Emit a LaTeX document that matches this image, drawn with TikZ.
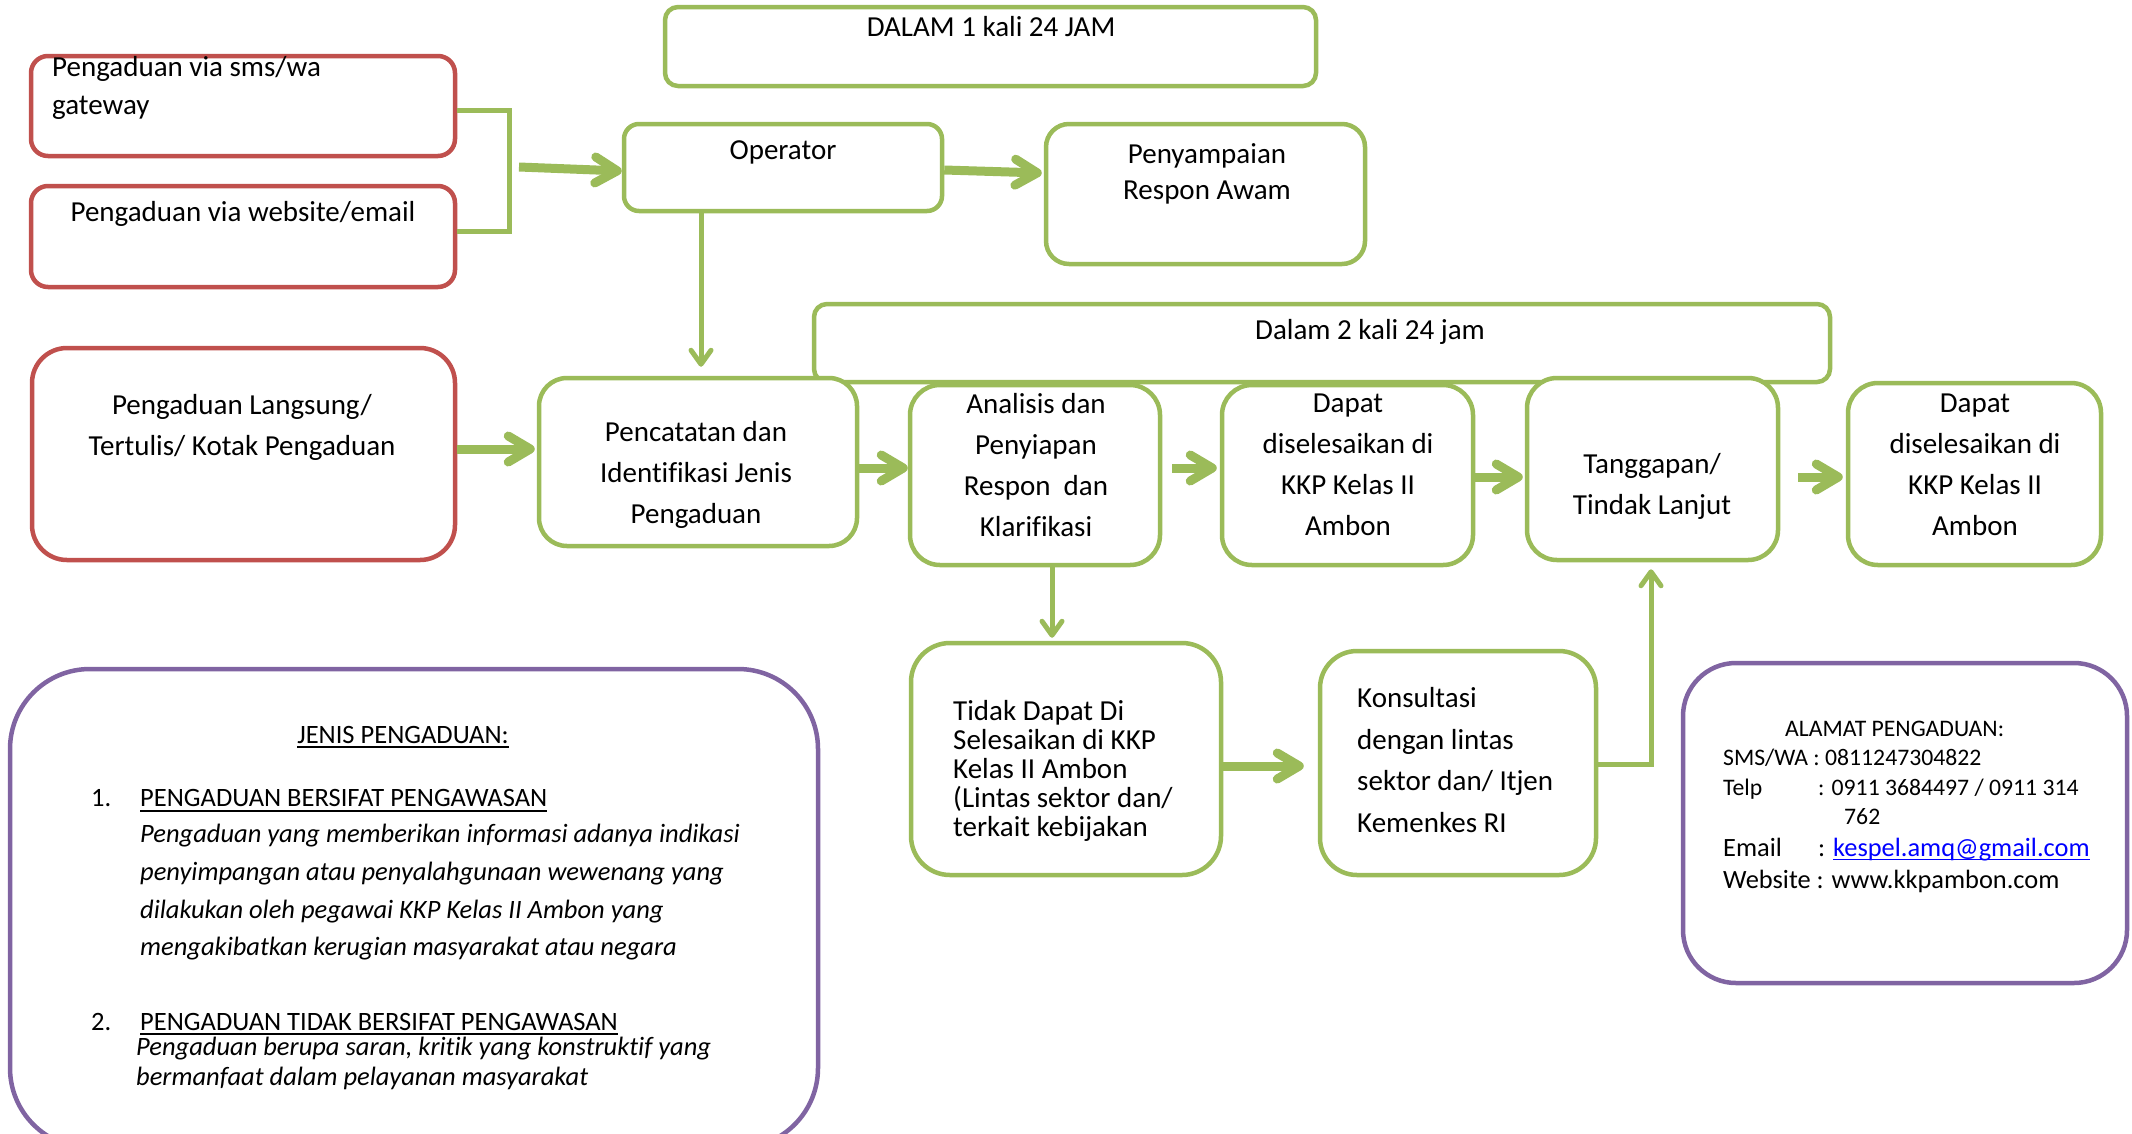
\documentclass[tikz,border=0pt]{standalone}
\usepackage{fontspec}
\setmainfont{Carlito}[Ligatures={NoCommon}]
\usetikzlibrary{arrows.meta}
\definecolor{gr}{HTML}{9BBB59}
\definecolor{rd}{HTML}{C0504D}
\definecolor{pu}{HTML}{8064A2}
\definecolor{lk}{HTML}{0000FF}
\tikzset{
 gbox/.style={draw=gr, line width=4.5pt, fill=white, inner sep=0pt},
 rbox/.style={draw=rd, line width=4.5pt, fill=white, inner sep=0pt},
 pbox/.style={draw=pu, line width=4.5pt, fill=white, inner sep=0pt},
 txt/.style={inner sep=0pt, font=\fontsize{29}{41}\selectfont, align=center},
 ltxt/.style={inner sep=0pt, font=\fontsize{29}{41}\selectfont, align=left, anchor=west},
 jtxt/.style={inner sep=0pt, font=\fontsize{26.5}{38}\selectfont, anchor=base west},
 jitxt/.style={inner sep=0pt, font=\fontsize{26.5}{38}\selectfont\itshape, anchor=base west},
 atxt/.style={inner sep=0pt, font=\fontsize{23.7}{30}\selectfont, anchor=base west},
 abtxt/.style={inner sep=0pt, font=\fontsize{26.4}{30}\selectfont, anchor=base west},
 fat/.style={draw=gr, line width=9pt, -{Straight Barb[round,length=22pt,width=26pt]}},
 thinarr/.style={draw=gr, line width=5pt, -{Straight Barb[round,length=14pt,width=20pt]}},
 link/.style={draw=gr, line width=5pt},
 uline/.style={line width=2pt},
}
\newcommand\mkbox[7]{\node[#6, rounded corners=#7, minimum width={#4-#2}, minimum height={#5-#3}] (#1) at ({(#2+#4)/2},{(#3+#5)/2}) {};}
\begin{document}
\begin{tikzpicture}[x=1pt,y=-1pt]
\useasboundingbox (0,0) rectangle (2132,1133);
% boxes
\mkbox{d1h}{665}{7}{1316}{86}{gbox}{13pt}
\mkbox{sms}{31}{56}{455}{156}{rbox}{17pt}
\mkbox{web}{31}{186}{455}{287}{rbox}{17pt}
\mkbox{op}{624}{124}{942}{211}{gbox}{15pt}
\mkbox{pen}{1046}{124}{1365}{264}{gbox}{23pt}
\mkbox{d2h}{814}{304}{1830}{382}{gbox}{13pt}
\mkbox{ll}{32}{348}{455}{560}{rbox}{35pt}
\mkbox{pc}{539}{378}{857}{546}{gbox}{28pt}
\mkbox{an}{910}{385}{1160}{565}{gbox}{30pt}
\mkbox{da}{1222}{385}{1473}{565}{gbox}{30pt}
\mkbox{tg}{1527}{378}{1778}{560}{gbox}{30pt}
\mkbox{db}{1848}{383}{2101}{565}{gbox}{30pt}
\mkbox{td}{911}{643}{1221}{875}{gbox}{39pt}
\mkbox{ks}{1320}{651}{1596}{875}{gbox}{37pt}
\mkbox{jn}{10}{669}{818}{1148}{pbox}{80pt}
\mkbox{al}{1683}{663}{2127}{983}{pbox}{53pt}
% texts
\node[txt] (t-d1h) at (991,27) {DALAM 1 kali 24 JAM};
\node[ltxt, font=\fontsize{29}{38}\selectfont] (t-sms) at (52,88) {Pengaduan via sms/wa\\gateway};
\node[txt] (t-web) at (243,214) {Pengaduan via website/email};
\node[txt] (t-op) at (783,152) {Operator};
\node[txt, font=\fontsize{29}{36}\selectfont] (t-pen) at (1207,174) {Penyampaian\\Respon Awam};
\node[txt] (t-d2h) at (1370,332) {Dalam 2 kali 24 jam};
\node[txt] (t-ll) at (242,427) {Pengaduan Langsung/\\Tertulis/ Kotak Pengaduan};
\node[txt] (t-pc) at (696,475) {Pencatatan dan\\Identifikasi Jenis\\Pengaduan};
\node[txt] (t-an) at (1036,465) {Analisis dan\\Penyiapan\\Respon\ \ dan\\Klarifikasi};
\node[txt] (t-da) at (1348,465) {Dapat\\diselesaikan di\\KKP Kelas II\\Ambon};
\node[txt] (t-tg) at (1652,486) {Tanggapan/\\Tindak Lanjut};
\node[txt] (t-db) at (1975,465) {Dapat\\diselesaikan di\\KKP Kelas II\\Ambon};
\node[ltxt, font=\fontsize{29}{29.2}\selectfont] (t-td) at (953,771) {Tidak Dapat Di\\Selesaikan di KKP\\Kelas II Ambon\\(Lintas sektor dan/\\terkait kebijakan};
\node[ltxt, font=\fontsize{29}{41.7}\selectfont] (t-ks) at (1357,760) {Konsultasi\\dengan lintas\\sektor dan/ Itjen\\Kemenkes RI};
% jenis
\node[jtxt, anchor=base] (j0) at (403,743) {JENIS PENGADUAN:};
\draw[uline] ([yshift=-3.5pt]j0.base west) -- ([yshift=-3.5pt]j0.base east);
\node[jtxt] (j1n) at (91,806) {1.};
\node[jtxt] (j1) at (140,806) {PENGADUAN BERSIFAT PENGAWASAN};
\draw[uline] ([yshift=-4.5pt]j1.base west) -- ([yshift=-4.5pt]j1.base east);
\node[jitxt] (j1a) at (140,842) {Pengaduan yang memberikan informasi adanya indikasi};
\node[jitxt] (j1b) at (140,880) {penyimpangan atau penyalahgunaan wewenang yang};
\node[jitxt] (j1c) at (140,918) {dilakukan oleh pegawai KKP Kelas II Ambon yang};
\node[jitxt] (j1d) at (140,955) {mengakibatkan kerugian masyarakat atau negara};
\node[jtxt] (j2n) at (91,1030) {2.};
\node[jtxt] (j2) at (140,1030) {PENGADUAN TIDAK BERSIFAT PENGAWASAN};
\draw[uline] ([yshift=-3.5pt]j2.base west) -- ([yshift=-3.5pt]j2.base east);
\node[jitxt] (j2a) at (136,1055) {Pengaduan berupa saran, kritik yang konstruktif yang};
\node[jitxt] (j2b) at (136,1085) {bermanfaat dalam pelayanan masyarakat};
% alamat
\node[atxt] (a0) at (1785,736) {ALAMAT PENGADUAN:};
\node[atxt] (a1) at (1723,765) {SMS/WA : 0811247304822};
\node[atxt] (a2) at (1723,795) {Telp};
\node[atxt] (a2b) at (1818,795) {: 0911 3684497 / 0911 314};
\node[atxt] (a2c) at (1844,824) {762};
\node[abtxt] (a3) at (1723,856) {Email};
\node[abtxt] (a3b) at (1818,856) {:};
\node[abtxt, text=lk] (a3c) at (1833,856) {kespel.amq@gmail.com};
\draw[uline, draw=lk, line width=1.8pt] ([yshift=-3.5pt]a3c.base west) -- ([yshift=-3.5pt]a3c.base east);
\node[abtxt] (a4) at (1723,888) {Website : www.kkpambon.com};
% connectors
\coordinate (bk) at (509,170);
\draw[link] ([yshift=-4pt]sms.east) -| (bk) |- ([yshift=5pt]web.east);
\coordinate (bo) at (519,167);
\draw[fat] (bo) -- ([yshift=-3.5pt]op.west);
\draw[fat] ([yshift=-2.5pt]op.east) -- ([xshift=-2pt,yshift=21pt]pen.west);
\draw[thinarr] ([xshift=-82pt]op.south) -- ([xshift=3pt,yshift=9pt]pc.north);
\draw[fat] ([yshift=5pt]ll.east) -- ([xshift=-2pt,yshift=13pt]pc.west);
\draw[fat] ([yshift=-6pt]pc.east) -- ([yshift=7pt]an.west);
\draw[fat] ([xshift=10pt,yshift=7pt]an.east) -- ([xshift=-3pt,yshift=7pt]da.west);
\draw[fat] ([yshift=-2pt]da.east) -- ([xshift=-2pt,yshift=-8pt]tg.west);
\draw[fat] ([xshift=18pt,yshift=-8pt]tg.east) -- ([xshift=-3pt,yshift=-3pt]db.west);
\draw[thinarr] ([xshift=17pt]an.south) -- ([xshift=-14pt,yshift=3pt]td.north);
\draw[fat] ([yshift=-7pt]td.east) -- ([xshift=-14pt,yshift=-3pt]ks.west);
\draw[thinarr] ([yshift=-1pt]ks.east) -| ([xshift=-1.5pt,yshift=-7pt]tg.south);
\end{tikzpicture}
\end{document}
